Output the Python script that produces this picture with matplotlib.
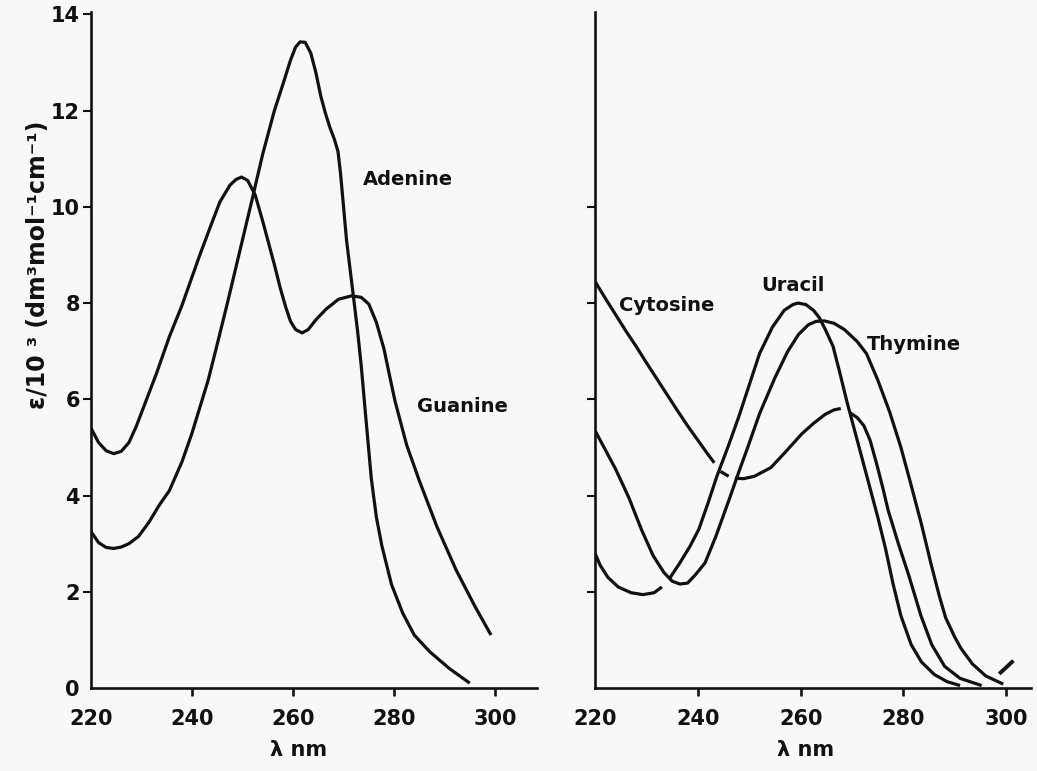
import numpy as np
import matplotlib
matplotlib.use("Agg")
import matplotlib.pyplot as plt

# purines (left panel), wavelength nm vs epsilon/10^3
adenine_x = [220, 221.5, 223, 224.5, 226, 227.5, 229.4, 231.5, 233.5, 235.5, 238, 240, 241.6, 243.2, 245,
             247, 249.5, 252, 254, 256.3, 258, 259.5, 260.5, 261.4, 262.4, 263.5, 264.5, 265.5, 266.4,
             267.3, 268.2, 268.9, 269.4, 270, 270.6, 271.3, 272, 272.8, 273.5, 274.3, 275.5, 276.5, 277.6,
             279.5, 281.7, 284, 287.1, 291, 295]
adenine_y = [3.25, 3.02, 2.92, 2.9, 2.93, 3.0, 3.15, 3.45, 3.8, 4.1, 4.7, 5.3, 5.85, 6.4, 7.15,
             8.0, 9.1, 10.2, 11.1, 12.0, 12.55, 13.05, 13.32, 13.43, 13.42, 13.2, 12.8, 12.3, 11.95,
             11.65, 11.4, 11.15, 10.7, 10.0, 9.3, 8.7, 8.1, 7.4, 6.7, 5.75, 4.35, 3.55, 2.95,
             2.15, 1.56, 1.1, 0.75, 0.4, 0.1]

guanine_x = [220, 221.5, 223, 224.5, 226, 227.5, 229, 231, 233, 235.5, 238, 241.4, 243.5, 245.5, 247.5,
             248.7, 249.8, 251, 252.5, 254, 256.3, 257.5, 258.6, 259.5, 260.5, 261.8, 263, 264.5, 266.5,
             269, 271.6, 273.5, 275, 276.5, 278, 279.2, 280.2, 282.5, 285, 288.5, 292.3, 296, 299.2]
guanine_y = [5.4, 5.1, 4.93, 4.87, 4.92, 5.1, 5.45, 6.0, 6.55, 7.3, 7.95, 8.96, 9.55, 10.1, 10.45,
             10.57, 10.62, 10.55, 10.25, 9.7, 8.8, 8.3, 7.9, 7.62, 7.45, 7.38, 7.45, 7.65, 7.87,
             8.08, 8.15, 8.12, 7.98, 7.6, 7.05, 6.45, 5.96, 5.05, 4.31, 3.35, 2.45, 1.7, 1.1]

# pyrimidines (right panel)
cytosine_x = [220, 222, 224, 226, 228, 230, 232, 234, 236, 238, 240, 242, 243.2, 244.4, 246.0, 247.2,
              248.9, 251, 254.2, 257, 260.2, 262.5, 264.8, 266.5, 267.8, 269.6, 271, 272.3, 273.5, 274.8,
              276, 277, 279, 281, 283.4, 285.5, 288, 291, 295.2]
cytosine_y = [8.45, 8.1, 7.76, 7.42, 7.1, 6.76, 6.43, 6.1, 5.77, 5.45, 5.15, 4.85, 4.68, 4.5, 4.4, 4.36,
              4.35, 4.4, 4.58, 4.9, 5.28, 5.5, 5.69, 5.78, 5.81, 5.72, 5.62, 5.45, 5.15, 4.65,
              4.15, 3.7, 3.0, 2.35, 1.5, 0.9, 0.45, 0.2, 0.05]

uracil_x = [220, 221, 222.5, 224.5, 227, 229.3, 231.5, 233, 234.4, 236.5, 238.5, 240.2, 242, 243.7, 246,
            248, 250, 252, 254.5, 256.8, 258.5, 259.5, 261, 262.5, 263.6, 264.8, 266.3, 267.5, 269, 270.5,
            272, 273.5, 275, 276.5, 278, 279.5, 281.5, 283.5, 286, 288.5, 291]
uracil_y = [2.8, 2.55, 2.3, 2.1, 1.98, 1.94, 1.98, 2.1, 2.26, 2.6, 2.95, 3.3, 3.85, 4.4, 5.05,
            5.65, 6.3, 6.95, 7.5, 7.85, 7.97, 8.0, 7.97, 7.85, 7.7, 7.45, 7.1, 6.6, 5.95, 5.35,
            4.75, 4.15, 3.55, 2.9, 2.15, 1.5, 0.9, 0.54, 0.28, 0.13, 0.05]

thymine_x = [220, 222, 224, 226.6, 229, 231.3, 233.4, 235, 236.5, 238, 239.5, 241.4, 243.5, 246.2, 248,
             249.7, 252, 255, 257.5, 259.6, 261.5, 263, 264.6, 266.5, 268.5, 271, 272.8, 275, 277.3,
             279.5, 281.4, 283.5, 285.4, 287, 288.2, 290, 291.2, 293.4, 296, 299.4]
thymine_y = [5.35, 4.95, 4.55, 3.95, 3.3, 2.75, 2.4, 2.22, 2.16, 2.18, 2.35, 2.6, 3.15, 3.95, 4.5,
             5.0, 5.7, 6.45, 7.0, 7.35, 7.55, 7.62, 7.63, 7.58, 7.45, 7.2, 6.95, 6.4, 5.74,
             5.0, 4.25, 3.4, 2.56, 1.9, 1.46, 1.05, 0.82, 0.5, 0.25, 0.08]

# places where the pen was lifted in the original drawing
cytosine_gaps = [(243.2, 244.4), (246.0, 247.2), (267.8, 269.6)]
uracil_gaps = [(233, 234.4)]

# small stray stroke near 300 nm in the right panel
stray_x = [298.9, 301.1]
stray_y = [0.32, 0.54]

x_ticks = [220, 240, 260, 280, 300]
y_ticks_left = [0, 2, 4, 6, 8, 10, 12, 14]
y_ticks_right = [2, 4, 6, 8, 10]

INK = "#111111"
BG = "#f8f8f6"
LW = 2.3
FONT = "DejaVu Sans"


def with_gaps(xs, ys, gaps):
    gx, gy = [], []
    for i in range(len(xs)):
        gx.append(xs[i])
        gy.append(ys[i])
        if i + 1 < len(xs) and (xs[i], xs[i + 1]) in gaps:
            gx.append(np.nan)
            gy.append(np.nan)
    return gx, gy


def style(ax, xmax, yticks, show_ylabels):
    ax.set_facecolor(BG)
    ax.set_xlim(220, xmax)
    ax.set_ylim(0, 14.05)
    for s in ["top", "right"]:
        ax.spines[s].set_visible(False)
    for s in ["left", "bottom"]:
        ax.spines[s].set_linewidth(1.9)
        ax.spines[s].set_color(INK)
    ax.set_xticks(x_ticks)
    ax.set_xticklabels([str(t) for t in x_ticks], fontsize=15, fontweight="bold",
                       family=FONT, color=INK)
    ax.set_yticks(yticks)
    if show_ylabels:
        ax.set_yticklabels([str(t) for t in yticks], fontsize=15, fontweight="bold",
                           family=FONT, color=INK)
    else:
        ax.set_yticklabels([])
    ax.tick_params(axis="x", direction="out", length=6, width=1.9, pad=9, color=INK)
    ax.tick_params(axis="y", direction="out", length=6, width=1.5, pad=2, color=INK)
    # no tick marks at the corner
    ax.xaxis.get_major_ticks()[0].tick1line.set_visible(False)
    if show_ylabels:
        ax.yaxis.get_major_ticks()[0].tick1line.set_visible(False)
    ax.text(261, -0.092, "λ nm", transform=ax.get_xaxis_transform(), ha="center", va="center",
            fontsize=15, fontweight="bold", family=FONT, color=INK)


def curve(ax, xs, ys):
    ax.plot(xs, ys, color=INK, lw=LW, solid_capstyle="butt", solid_joinstyle="round")


fig = plt.figure(figsize=(10.37, 7.71), dpi=100, facecolor=BG)
ax1 = fig.add_axes([0.0878, 0.1077, 0.430, 0.8767])
ax2 = fig.add_axes([0.5738, 0.1077, 0.4204, 0.8767])

style(ax1, 308.3, y_ticks_left, True)
style(ax2, 304.8, y_ticks_right, False)

curve(ax1, adenine_x, adenine_y)
curve(ax1, guanine_x, guanine_y)
ax1.text(273.8, 10.56, "Adenine", fontsize=14, fontweight="bold", family=FONT, color=INK, va="center")
ax1.text(284.6, 5.86, "Guanine", fontsize=14, fontweight="bold", family=FONT, color=INK, va="center")

cx, cy = with_gaps(cytosine_x, cytosine_y, cytosine_gaps)
ux, uy = with_gaps(uracil_x, uracil_y, uracil_gaps)
curve(ax2, cx, cy)
curve(ax2, ux, uy)
curve(ax2, thymine_x, thymine_y)
ax2.plot(stray_x, stray_y, color=INK, lw=LW + 0.5, clip_on=False)
ax2.text(224.7, 7.95, "Cytosine", fontsize=14, fontweight="bold", family=FONT, color=INK, va="center")
ax2.text(252.4, 8.37, "Uracil", fontsize=14, fontweight="bold", family=FONT, color=INK, va="center")
ax2.text(272.8, 7.13, "Thymine", fontsize=14, fontweight="bold", family=FONT, color=INK, va="center")

fig.text(0.037, 0.656, "ε/10 ³ (dm³mol⁻¹cm⁻¹)", rotation=90, ha="center", va="center",
         fontsize=17, fontweight="bold", family=FONT, color=INK)

fig.savefig("out.png", dpi=100, facecolor=BG)
